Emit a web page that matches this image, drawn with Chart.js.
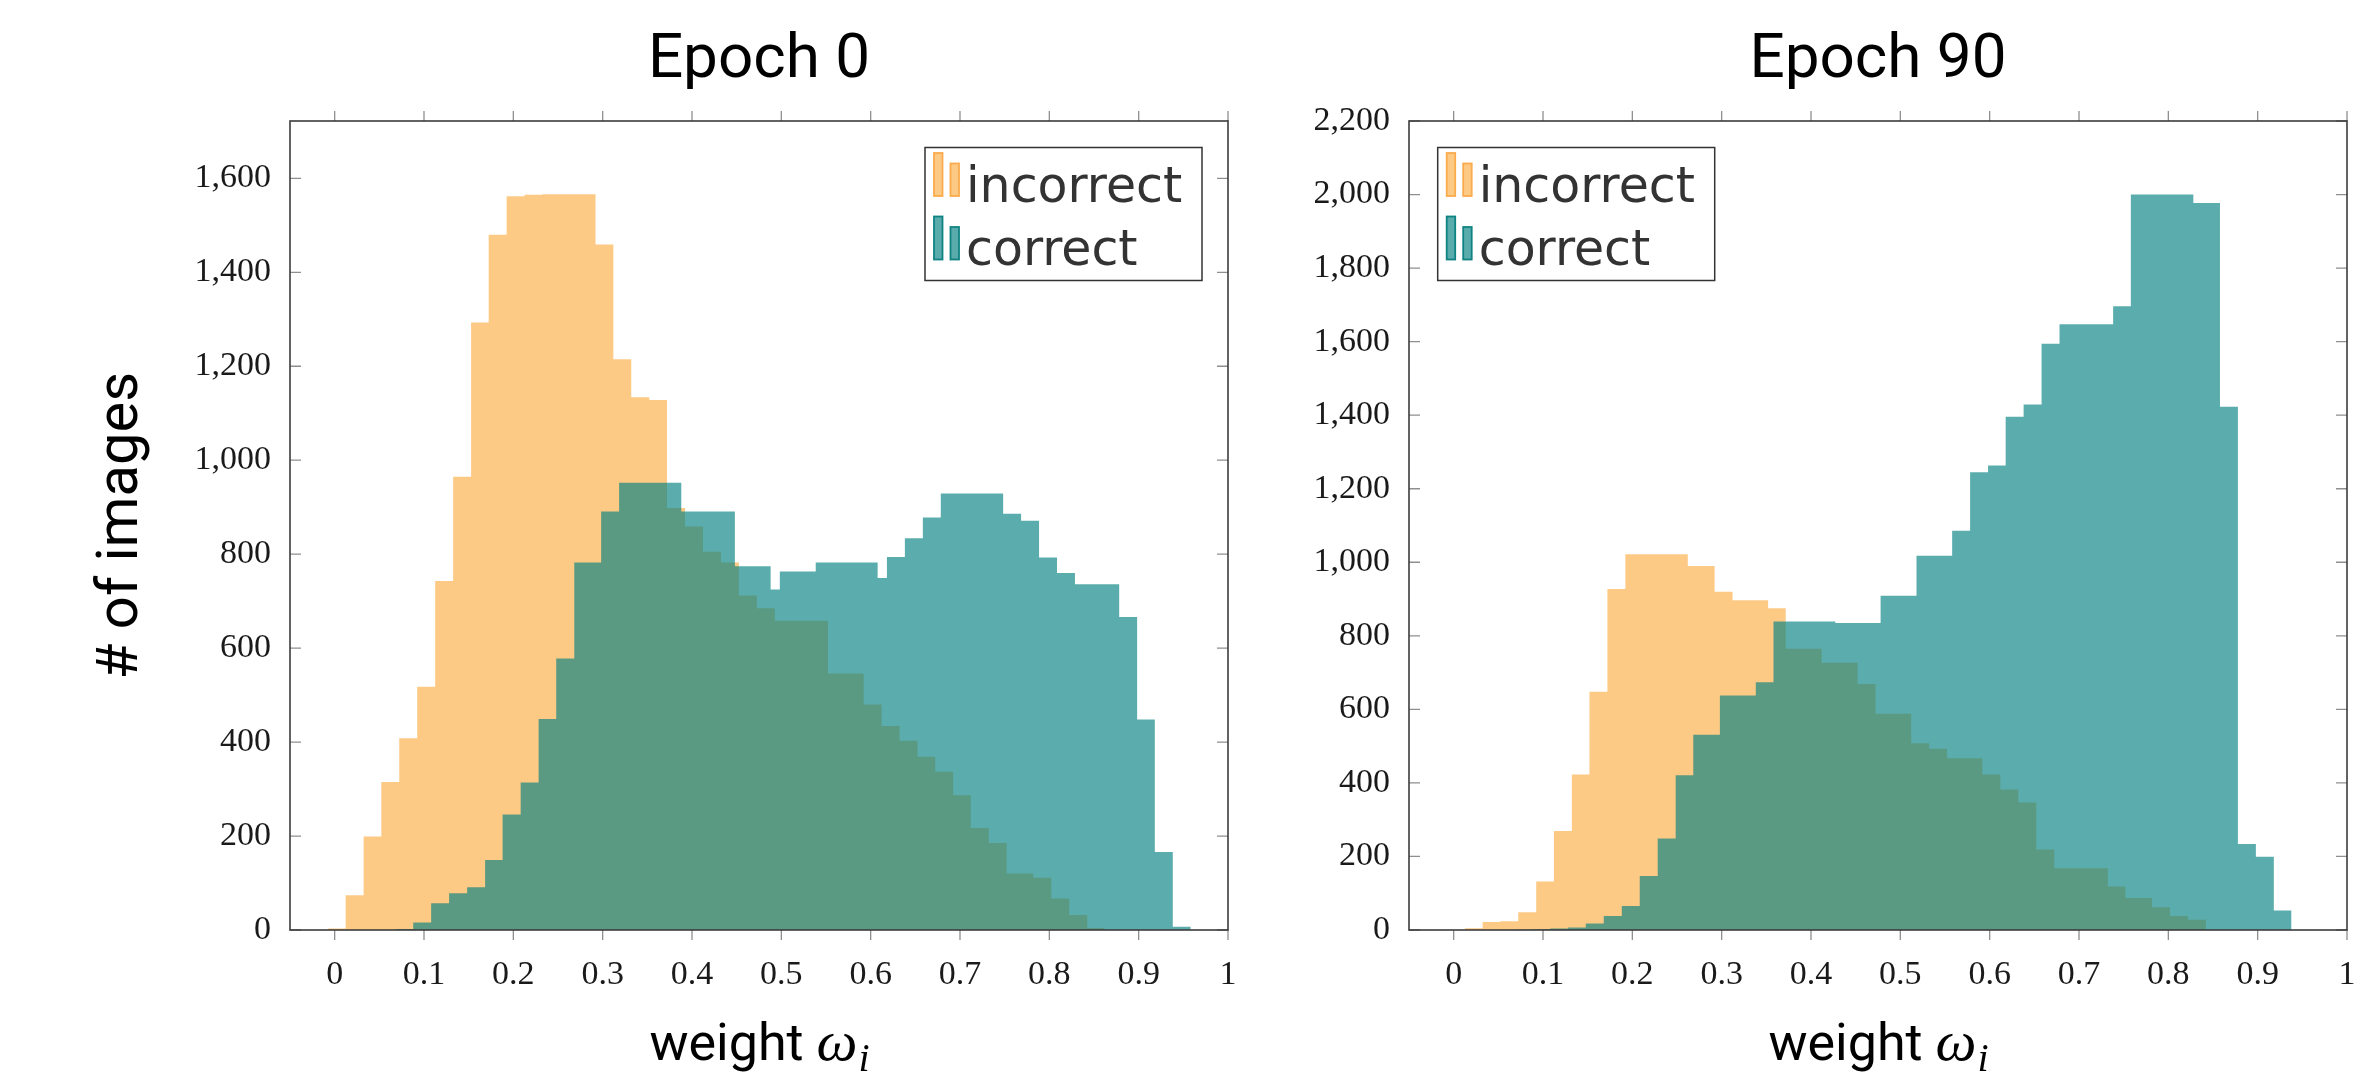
<!DOCTYPE html>
<html><head><meta charset="utf-8">
<script src="https://cdn.jsdelivr.net/npm/chart.js@4.4.1/dist/chart.umd.min.js"></script>
<style>
html,body{margin:0;padding:0;background:#fff;width:2371px;height:1086px;overflow:hidden;}
canvas{position:absolute;top:0;}
#c0{left:0;width:1290px;height:1086px;}
#c1{left:1290px;width:1081px;height:1086px;}
</style></head><body>
<canvas id="c0" width="1290" height="1086"></canvas>
<canvas id="c1" width="1081" height="1086"></canvas>
<script>
// ---------- data ----------
const seriesLabels = ['incorrect', 'correct'];
const panelTitles = ['Epoch 0', 'Epoch 90'];
const xTickValues = [0, 0.1, 0.2, 0.3, 0.4, 0.5, 0.6, 0.7, 0.8, 0.9, 1];
const yTickValuesEpoch0 = [0, 200, 400, 600, 800, 1000, 1200, 1400, 1600];
const yTickValuesEpoch90 = [0, 200, 400, 600, 800, 1000, 1200, 1400, 1600, 1800, 2000, 2200];
const yMaxEpoch0 = 1722;
const yMaxEpoch90 = 2200;

// bin edges (weight) and counts, epoch 0
const epoch0IncorrectEdges = [-0.0075, 0.0123, 0.0324, 0.0522, 0.0723, 0.0924, 0.1125, 0.1326, 0.1527, 0.1724,
  0.1925, 0.2125, 0.2325, 0.2525, 0.2725, 0.292, 0.312, 0.332, 0.3523, 0.372,
  0.3922, 0.4123, 0.4324, 0.4525, 0.4726, 0.4927, 0.5523, 0.5922, 0.6123, 0.6324,
  0.6525, 0.6723, 0.6924, 0.7121, 0.7322, 0.7523, 0.7821, 0.8022, 0.8223, 0.8425, 0.862];
const epoch0IncorrectCounts = [3, 74, 199, 315, 408, 518, 743, 965, 1293, 1480,
  1562, 1565, 1566, 1566, 1566, 1459, 1215, 1134, 1128, 898,
  859, 805, 782, 712, 685, 658, 546, 480, 434, 403,
  369, 337, 287, 217, 185, 120, 111, 67, 32, 4];
const epoch0CorrectEdges = [0.0682, 0.0879, 0.108, 0.1281, 0.1483, 0.1684, 0.188, 0.2082, 0.2283, 0.248,
  0.2682, 0.2983, 0.3184, 0.388, 0.448, 0.488, 0.4983, 0.5385, 0.6078, 0.6182,
  0.6383, 0.6584, 0.6785, 0.7483, 0.7684, 0.7885, 0.8086, 0.8287, 0.8782, 0.8983,
  0.9181, 0.9382, 0.9583];
const epoch0CorrectCounts = [2, 16, 57, 78, 91, 149, 246, 314, 449, 578,
  782, 891, 952, 891, 774, 725, 763, 782, 749, 794,
  834, 878, 929, 886, 871, 793, 760, 736, 666, 448,
  166, 7];

// bin edges (weight) and counts, epoch 90
const epoch90IncorrectEdges = [0.0123, 0.0324, 0.0522, 0.0723, 0.0924, 0.1122, 0.1323, 0.152, 0.1721, 0.1922,
  0.2621, 0.2921, 0.3122, 0.352, 0.3717, 0.412, 0.4522, 0.4723, 0.5122, 0.5323,
  0.5524, 0.5918, 0.612, 0.6321, 0.6522, 0.6723, 0.7323, 0.752, 0.7818, 0.8019,
  0.822, 0.8421];
const epoch90IncorrectCounts = [5, 22, 24, 48, 132, 269, 423, 648, 927, 1022,
  990, 920, 897, 875, 765, 727, 669, 588, 508, 493,
  467, 423, 382, 347, 219, 168, 118, 87, 62, 38,
  28];
const epoch90CorrectEdges = [0.0683, 0.0883, 0.1081, 0.1282, 0.1479, 0.168, 0.1882, 0.2083, 0.2284, 0.2485,
  0.2682, 0.298, 0.3382, 0.358, 0.4272, 0.4779, 0.5181, 0.558, 0.5781, 0.5982,
  0.6179, 0.638, 0.6581, 0.6782, 0.7382, 0.758, 0.828, 0.8578, 0.8779, 0.898,
  0.9181, 0.9379];
const epoch90CorrectCounts = [1, 2, 4, 7, 18, 38, 65, 147, 249, 421,
  531, 638, 674, 839, 835, 909, 1018, 1086, 1245, 1263,
  1396, 1429, 1594, 1647, 1696, 2000, 1977, 1423, 234, 199,
  53];

// ---------- styles ----------
const ORANGE_FILL = '#fdca86';
const ORANGE_EDGE = '#fbab4c';
const TEAL_FILL = 'rgba(0,128,128,0.645)';
const TEAL_LEGEND_FILL = '#5aabab';
const TEAL_EDGE = '#0f8383';
const TICK_FONT = {family: 'Liberation Serif', size: 34};

function histPoints(edges, counts) {
  const pts = counts.map((c, i) => ({x: edges[i], y: c}));
  pts.push({x: edges[edges.length - 1], y: 0});
  return pts;
}

const framePlugin = {
  id: 'frame',
  afterDraw(chart, args, o) {
    const {ctx, chartArea: a} = chart;
    const xs = chart.scales.x, ys = chart.scales.y;
    ctx.save();
    // tick marks
    ctx.strokeStyle = '#8f8f8f';
    ctx.lineWidth = 1.3;
    ctx.beginPath();
    xs.ticks.forEach(t => {
      const px = xs.getPixelForValue(t.value);
      ctx.moveTo(px, a.top); ctx.lineTo(px, a.top - 10);
      ctx.moveTo(px, a.bottom); ctx.lineTo(px, a.bottom + 10);
    });
    ys.ticks.forEach(t => {
      const py = ys.getPixelForValue(t.value);
      ctx.moveTo(a.left, py); ctx.lineTo(a.left + 11, py);
      ctx.moveTo(a.right, py); ctx.lineTo(a.right - 11, py);
    });
    ctx.stroke();
    // frame
    ctx.strokeStyle = '#3c3c3c';
    ctx.lineWidth = 1.6;
    ctx.strokeRect(a.left, a.top, a.right - a.left, a.bottom - a.top);

    // panel title
    const cx = (a.left + a.right) / 2;
    ctx.fillStyle = '#000';
    ctx.font = '62px Roboto';
    ctx.textAlign = 'center';
    ctx.textBaseline = 'alphabetic';
    ctx.fillText(o.title, cx, 77);

    // x axis title: weight ω_i
    const f1 = '52px Roboto', f2 = 'italic 58px "Liberation Serif"', f3 = 'italic 40px "Liberation Serif"';
    const s1 = 'weight ', s2 = '\u03C9', s3 = 'i';
    ctx.font = f1; const w1 = ctx.measureText(s1).width;
    ctx.font = f2; const w2 = ctx.measureText(s2).width;
    ctx.font = f3; const w3 = ctx.measureText(s3).width;
    let x0 = cx - (w1 + w2 + w3) / 2;
    const base = 1060;
    ctx.textAlign = 'left';
    ctx.font = f1; ctx.fillText(s1, x0, base);
    ctx.font = f2; ctx.fillText(s2, x0 + w1, base);
    ctx.font = f3; ctx.fillText(s3, x0 + w1 + w2 + 1, base + 11);

    // y axis title
    if (o.yTitle) {
      ctx.save();
      ctx.translate(137, (a.top + a.bottom) / 2);
      ctx.rotate(-Math.PI / 2);
      ctx.textAlign = 'center';
      ctx.font = '58px Roboto';
      ctx.fillText(o.yTitle, 0, 0);
      ctx.restore();
    }

    // legend
    const L = o.legendLeft, T = 147.5, W = 277, H = 133;
    ctx.fillStyle = '#fff';
    ctx.fillRect(L, T, W, H);
    ctx.strokeStyle = '#333';
    ctx.lineWidth = 1.5;
    ctx.strokeRect(L, T, W, H);
    const rows = [
      {label: seriesLabels[0], fill: ORANGE_FILL, edge: ORANGE_EDGE, dy: 0},
      {label: seriesLabels[1], fill: TEAL_LEGEND_FILL, edge: TEAL_EDGE, dy: 63.5}
    ];
    rows.forEach(r => {
      ctx.fillStyle = r.fill;
      ctx.strokeStyle = r.edge;
      ctx.lineWidth = 1.8;
      ctx.fillRect(L + 9, T + 5.5 + r.dy, 8.5, 43);
      ctx.strokeRect(L + 9, T + 5.5 + r.dy, 8.5, 43);
      ctx.fillRect(L + 25.5, T + 16 + r.dy, 8.5, 32.5);
      ctx.strokeRect(L + 25.5, T + 16 + r.dy, 8.5, 32.5);
      ctx.fillStyle = '#333';
      ctx.font = '49px "DejaVu Sans"';
      ctx.textAlign = 'left';
      ctx.fillText(r.label, L + 41, T + 54 + r.dy);
    });
    ctx.restore();
  }
};

function makeChart(id, cfg) {
  return new Chart(document.getElementById(id), {
    type: 'line',
    data: {
      datasets: [
        {label: seriesLabels[0], data: histPoints(cfg.incEdges, cfg.incCounts), stepped: 'before',
         fill: 'origin', backgroundColor: ORANGE_FILL, borderColor: 'rgba(0,0,0,0)', borderWidth: 0,
         pointRadius: 0, pointHoverRadius: 0, order: 1},
        {label: seriesLabels[1], data: histPoints(cfg.corEdges, cfg.corCounts), stepped: 'before',
         fill: 'origin', backgroundColor: TEAL_FILL, borderColor: 'rgba(0,0,0,0)', borderWidth: 0,
         pointRadius: 0, pointHoverRadius: 0, order: 0}
      ]
    },
    options: {
      responsive: false,
      animation: false,
      devicePixelRatio: 1,
      layout: {padding: {left: 0, right: cfg.padRight, top: 121, bottom: 0}},
      plugins: {
        legend: {display: false},
        tooltip: {enabled: false},
        title: {display: false},
        frame: {title: cfg.title, yTitle: cfg.yTitle, legendLeft: cfg.legendLeft}
      },
      scales: {
        x: {
          type: 'linear', min: -0.05, max: 1,
          grid: {display: false, drawTicks: false},
          border: {display: false},
          ticks: {autoSkip: false, maxRotation: 0, padding: 25, font: TICK_FONT, color: '#1a1a1a',
                  callback: v => String(Math.round(v * 10) / 10)},
          afterBuildTicks: s => { s.ticks = xTickValues.map(v => ({value: v})); },
          afterFit: s => { s.height = 156; s.paddingLeft = 0; s.paddingRight = 0; }
        },
        y: {
          type: 'linear', min: 0, max: cfg.yMax,
          grid: {display: false, drawTicks: false},
          border: {display: false},
          ticks: {autoSkip: false, padding: 19, font: TICK_FONT, color: '#1a1a1a',
                  callback: v => Number(v).toLocaleString('en-US')},
          afterBuildTicks: s => { s.ticks = cfg.yTicks.map(v => ({value: v})); },
          afterFit: s => { s.width = cfg.yAxisWidth; s.paddingTop = 0; s.paddingBottom = 0; }
        }
      }
    },
    plugins: [framePlugin]
  });
}

makeChart('c0', {
  title: panelTitles[0], yTitle: '# of images', legendLeft: 925,
  incEdges: epoch0IncorrectEdges, incCounts: epoch0IncorrectCounts,
  corEdges: epoch0CorrectEdges, corCounts: epoch0CorrectCounts,
  yMax: yMaxEpoch0, yTicks: yTickValuesEpoch0, yAxisWidth: 290, padRight: 62
});
makeChart('c1', {
  title: panelTitles[1], yTitle: null, legendLeft: 1437.7 - 1290,
  incEdges: epoch90IncorrectEdges, incCounts: epoch90IncorrectCounts,
  corEdges: epoch90CorrectEdges, corCounts: epoch90CorrectCounts,
  yMax: yMaxEpoch90, yTicks: yTickValuesEpoch90, yAxisWidth: 119, padRight: 24
});
</script>
</body></html>
